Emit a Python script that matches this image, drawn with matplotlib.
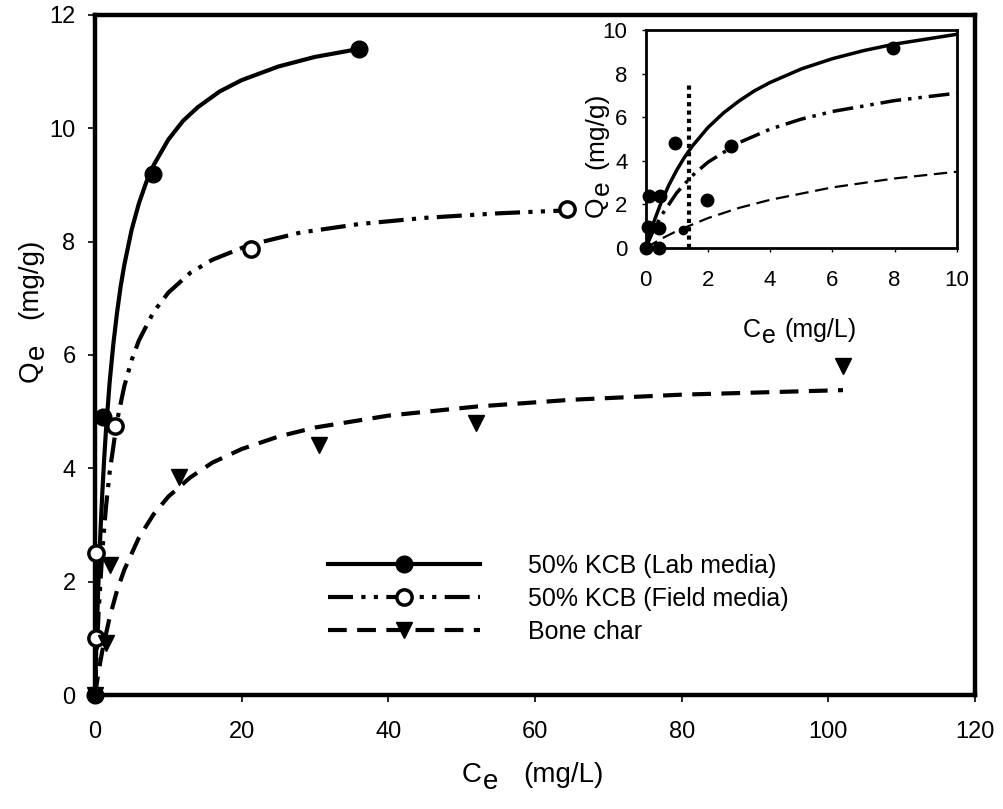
import matplotlib
matplotlib.use("Agg")
import matplotlib.pyplot as plt
from matplotlib.lines import Line2D

plt.rcParams['font.family'] = ['Liberation Sans', 'DejaVu Sans']

# measured points
lab_ce = [0, 1.1, 7.9, 36.0]
lab_qe = [0, 4.9, 9.2, 11.4]
field_ce = [0.1, 0.1, 2.7, 21.3, 64.4]
field_qe = [1.0, 2.5, 4.74, 7.87, 8.57]
bone_ce = [0, 1.5, 2.0, 11.5, 30.5, 52.0, 102.0]
bone_qe = [0, 0.92, 2.3, 3.84, 4.42, 4.8, 5.8]

# fitted curves
lab_fit_ce = [0, 0.1, 0.25, 0.5, 0.75, 1, 1.25, 1.5, 2, 2.5, 3, 3.5, 4, 5, 6, 7, 8,
              10, 12, 14, 17, 20, 25, 30, 36]
lab_fit_qe = [0, 0.49, 1.14, 2.09, 2.89, 3.57, 4.16, 4.67, 5.52, 6.19, 6.74, 7.21,
              7.59, 8.21, 8.68, 9.05, 9.35, 9.80, 10.13, 10.37, 10.65, 10.85, 11.09,
              11.26, 11.40]
field_fit_ce = [0, 0.25, 0.5, 1, 1.5, 2, 3, 4, 5, 6, 8, 10, 13, 16, 21, 28, 36, 45, 55, 64]
field_fit_qe = [0, 0.80, 1.47, 2.53, 3.32, 3.93, 4.83, 5.45, 5.91, 6.26, 6.76, 7.10,
                7.45, 7.68, 7.94, 8.16, 8.31, 8.42, 8.50, 8.55]
bone_fit_ce = [0, 0.5, 1, 2, 3, 4, 6, 8, 10, 13, 16, 20, 25, 30, 40, 52, 65, 80, 102]
bone_fit_qe = [0, 0.42, 0.78, 1.37, 1.84, 2.21, 2.78, 3.19, 3.50, 3.84, 4.10, 4.34,
               4.56, 4.72, 4.93, 5.09, 5.21, 5.30, 5.38]

# inset (low concentration) points
inset_ce = [0, 0.43, 0.09, 0.1, 0.46, 0.44, 0.96, 2.76, 7.96, 1.96]
inset_qe = [0, 0, 0.95, 2.4, 2.4, 0.9, 4.8, 4.7, 9.16, 2.2]
inset_small_ce = [1.21]
inset_small_qe = [0.84]
limit_ce = 1.4
limit_top = 7.6

field_ls = (0, (6, 2, 1, 2, 1, 2))
bone_ls = (0, (4.5, 2.5))


def sub_label(ax, x, y, main, sub, rest, size, drop, gap, vertical=False):
    # label like "C" + lowered "e" + " (mg/L)", placed in figure coords
    kw = dict(fontsize=size, annotation_clip=False, textcoords='offset points')
    if not vertical:
        t1 = ax.text(x, y, main, transform=ax.figure.transFigure, fontsize=size,
                     ha='left', va='baseline')
        t2 = ax.annotate(sub, xy=(1, 0), xycoords=t1, xytext=(1, -drop),
                         ha='left', va='bottom', **kw)
        ax.annotate(rest, xy=(1, 0), xycoords=(t2, t1), xytext=(gap, 0),
                    ha='left', va='bottom', **kw)
    else:
        t1 = ax.text(x, y, main, transform=ax.figure.transFigure, fontsize=size,
                     rotation=90, ha='right', va='bottom')
        t2 = ax.annotate(sub, xy=(1, 1), xycoords=t1, xytext=(drop, 1),
                         rotation=90, ha='right', va='bottom', **kw)
        ax.annotate(rest, xy=(1, 1), xycoords=(t1, t2), xytext=(0, gap),
                    rotation=90, ha='right', va='bottom', **kw)


fig = plt.figure(figsize=(10.04, 8.09), dpi=100)
ax = fig.add_axes([0.0946, 0.1409, 0.8765, 0.8406])

ax.plot(lab_fit_ce, lab_fit_qe, color='black', lw=3)
ax.plot(field_fit_ce, field_fit_qe, color='black', lw=3, ls=field_ls)
ax.plot(bone_fit_ce, bone_fit_qe, color='black', lw=3, ls=bone_ls)
ax.plot(lab_ce, lab_qe, 'o', color='black', ms=12, clip_on=False, zorder=5)
ax.plot(field_ce, field_qe, 'o', mfc='white', mec='black', mew=2.5, ms=11,
        clip_on=False, zorder=5)
ax.plot(bone_ce, bone_qe, 'v', color='black', ms=11, clip_on=False, zorder=5)

ax.set_xlim(0, 120)
ax.set_ylim(0, 12)
ax.set_xticks(range(0, 121, 20))
ax.set_yticks(range(0, 13, 2))
ax.tick_params(labelsize=17, width=1.2, length=5, direction='out')
ax.tick_params(axis='x', pad=14)
ax.tick_params(axis='y', pad=9)
for s in ax.spines.values():
    s.set_linewidth(3.2)
sub_label(ax, 0.460, 1 - 782 / 809, 'C', 'e', '(mg/L)', 20, 5, 18)
sub_label(ax, 0.043, 1 - 382 / 809, 'Q', 'e', '(mg/g)', 20, 5, 18, vertical=True)

handles = [
    Line2D([], [], color='black', lw=3, marker='o', ms=12),
    Line2D([], [], color='black', lw=3, ls=field_ls, marker='o', mfc='white',
           mec='black', mew=2.5, ms=11),
    Line2D([], [], color='black', lw=3, ls=bone_ls, marker='v', ms=11),
]
labels = ['50% KCB (Lab media)', '50% KCB (Field media)', 'Bone char']
ax.legend(handles, labels, loc='upper left', bbox_to_anchor=(0.239, 0.241),
          frameon=False, fontsize=18, handlelength=6.1, handletextpad=1.9,
          labelspacing=0.36, numpoints=1)

# inset
ins = fig.add_axes([0.643, 0.6934, 0.31, 0.2696])
ins.plot(lab_fit_ce, lab_fit_qe, color='black', lw=2.5)
ins.plot(field_fit_ce, field_fit_qe, color='black', lw=2.5, ls=field_ls)
ins.plot(bone_fit_ce, bone_fit_qe, color='black', lw=1.6, ls=(0, (6, 3)))
ins.plot([limit_ce, limit_ce], [0, limit_top], color='black', lw=3,
         ls=(0, (1, 1)))
ins.plot(inset_ce, inset_qe, 'o', color='black', ms=9, clip_on=False, zorder=5)
ins.plot(inset_small_ce, inset_small_qe, 'o', color='black', ms=6, zorder=5)
ins.set_xlim(0, 10)
ins.set_ylim(0, 10)
ins.set_xticks(range(0, 11, 2))
ins.set_yticks(range(0, 11, 2))
ins.tick_params(labelsize=16, width=1, length=3, direction='out')
ins.tick_params(axis='x', pad=13)
ins.tick_params(axis='y', pad=10)
for s in ins.spines.values():
    s.set_linewidth(2)
sub_label(ins, 743 / 1004, 1 - 337 / 809, 'C', 'e', '(mg/L)', 18, 4, 6)
sub_label(ins, 608 / 1004, 1 - 217 / 809, 'Q', 'e', '(mg/g)', 19, 4, 8, vertical=True)

fig.savefig('out.png', dpi=100)
